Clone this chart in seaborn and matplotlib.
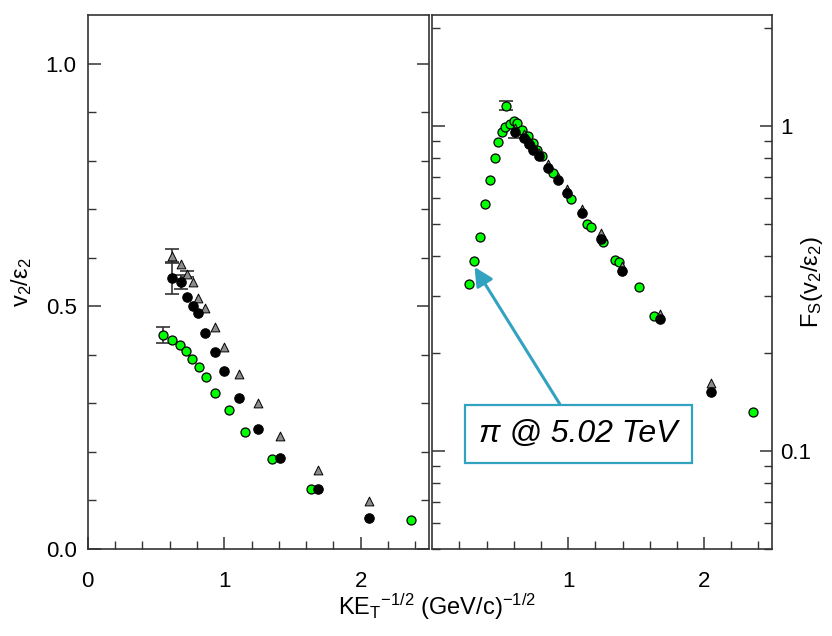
import numpy as np
import pandas as pd
import seaborn as sns
import matplotlib
matplotlib.use("Agg")
import matplotlib.pyplot as plt
from matplotlib.ticker import FixedLocator, FixedFormatter, NullFormatter

# ---------------- data ----------------
left_x = [0.62, 0.68, 0.73, 0.77, 0.81, 0.86, 0.93, 1.00, 1.11, 1.25, 1.41, 1.69, 2.06]
left_gray_y = [0.603, 0.587, 0.566, 0.550, 0.518, 0.496, 0.457, 0.416, 0.361, 0.300, 0.233, 0.163, 0.098]
left_gray_err = [0.014, 0, 0.006, 0, 0, 0, 0, 0, 0, 0, 0, 0, 0]
left_black_y = [0.559, 0.550, 0.520, 0.501, 0.486, 0.445, 0.406, 0.366, 0.312, 0.248, 0.188, 0.123, 0.063]
left_black_err = [0.033, 0.014, 0, 0, 0, 0, 0, 0, 0, 0, 0, 0, 0]
left_green_x = [0.554, 0.618, 0.674, 0.720, 0.762, 0.813, 0.864, 0.935, 1.036, 1.152, 1.348, 1.634, 2.369]
left_green_y = [0.441, 0.431, 0.421, 0.407, 0.392, 0.375, 0.355, 0.322, 0.286, 0.240, 0.186, 0.124, 0.059]
left_green_err = [0.016, 0, 0, 0, 0, 0, 0, 0, 0, 0, 0, 0, 0]

right_x = [0.61, 0.675, 0.712, 0.741, 0.785, 0.853, 0.927, 0.993, 1.098, 1.238, 1.396, 1.678, 2.052]
right_black_y = [0.958, 0.921, 0.879, 0.848, 0.809, 0.745, 0.683, 0.625, 0.542, 0.449, 0.359, 0.255, 0.152]
right_black_err = [0.04, 0, 0, 0, 0, 0, 0, 0, 0, 0, 0, 0, 0]
right_gray_y = [0.985, 0.945, 0.900, 0.870, 0.830, 0.765, 0.700, 0.640, 0.555, 0.469, 0.372, 0.264, 0.1625]
right_green_x = [0.267, 0.308, 0.350, 0.389, 0.423, 0.460, 0.487, 0.511, 0.536, 0.543, 0.570,
                 0.602, 0.626, 0.663, 0.704, 0.741, 0.773, 0.809, 0.888, 1.022, 1.140, 1.171,
                 1.257, 1.343, 1.377, 1.519, 1.629, 2.362]
right_green_y = [0.327, 0.385, 0.456, 0.575, 0.681, 0.796, 0.893, 0.958, 0.996, 1.157, 1.017,
                 1.036, 1.024, 0.977, 0.932, 0.889, 0.848, 0.809, 0.719, 0.599, 0.499, 0.490,
                 0.439, 0.388, 0.381, 0.321, 0.261, 0.132]
right_green_err = [0] * 9 + [0.035] + [0] * 18

annot_text = "π @ 5.02 TeV"
annot_xy = (0.30, 0.375)
annot_text_xy = (1.075, 0.113)

# ---------------- style ----------------
sns.set_style("ticks")
plt.rcParams['font.family'] = ['Liberation Sans', 'DejaVu Sans']
plt.rcParams['mathtext.default'] = 'regular'
plt.rcParams['mathtext.fontset'] = 'custom'
plt.rcParams['mathtext.rm'] = 'Liberation Sans'
plt.rcParams['mathtext.it'] = 'Liberation Sans:italic'
plt.rcParams['text.color'] = 'black'
plt.rcParams['axes.labelcolor'] = 'black'

GREEN = '#00FF00'
GRAY = '#8C8C8C'
SPINE = '#333333'
TEAL = '#31A2C0'

fig = plt.figure(figsize=(8.32, 6.36), dpi=100)
ax1 = fig.add_axes([0.1054, 0.1368, 0.4102, 0.8396])
ax2 = fig.add_axes([0.5196, 0.1368, 0.4083, 0.8396])


def draw(ax, gx, gy, gerr, x, grayy, grayerr, blacky, blackerr):
    # error bars
    for xs, ys, es in [(gx, gy, gerr), (x, grayy, grayerr), (x, blacky, blackerr)]:
        xe = [a for a, e in zip(xs, es) if e > 0]
        ye = [b for b, e in zip(ys, es) if e > 0]
        ee = [e for e in es if e > 0]
        if xe:
            ax.errorbar(xe, ye, yerr=ee, fmt='none', ecolor='#333333',
                        elinewidth=1.2, capsize=5, capthick=1.2, zorder=2)
    sns.scatterplot(x=gx, y=gy, ax=ax, marker='o', s=42, color=GREEN,
                    edgecolor='black', linewidth=0.9, zorder=3)
    sns.scatterplot(x=x, y=grayy, ax=ax, marker='^', s=40, color=GRAY,
                    edgecolor='black', linewidth=0.7, zorder=4)
    sns.scatterplot(x=x, y=blacky, ax=ax, marker='o', s=46, color='black',
                    edgecolor='black', linewidth=0.8, zorder=5)


draw(ax1, left_green_x, left_green_y, left_green_err, left_x,
     left_gray_y, left_gray_err, left_black_y, left_black_err)
draw(ax2, right_green_x, right_green_y, right_green_err, right_x,
     right_gray_y, [0] * len(right_x), right_black_y, right_black_err)

# ---------------- left axes ----------------
ax1.set_xlim(0, 2.5)
ax1.set_ylim(0, 1.1)
ax1.xaxis.set_major_locator(FixedLocator([0, 1, 2]))
ax1.xaxis.set_minor_locator(FixedLocator(np.arange(0, 2.5, 0.2)))
ax1.yaxis.set_major_locator(FixedLocator([0.0, 0.5, 1.0]))
ax1.yaxis.set_major_formatter(FixedFormatter(['0.0', '0.5', '1.0']))
ax1.yaxis.set_minor_locator(FixedLocator(np.arange(0, 1.1, 0.1)))
ax1.tick_params(axis='both', which='both', direction='in', labelsize=16,
                colors=SPINE, labelcolor='black')
ax1.tick_params(axis='y', which='both', left=True, right=True)
ax1.tick_params(axis='x', which='both', bottom=True, top=False)
ax1.tick_params(which='major', length=9, width=1.1)
ax1.tick_params(which='minor', length=6, width=1.0)
ax1.tick_params(axis='y', which='major', pad=8)
ax1.tick_params(axis='x', which='major', pad=16)
ax1.set_ylabel('v$_2$/ε$_2$', fontsize=17, labelpad=8, color='black')
ax1.set_xlabel('')

# ---------------- right axes ----------------
ax2.set_yscale('log')
ax2.set_xlim(0, 2.5)
ax2.set_ylim(0.05, 2.2)
ax2.xaxis.set_major_locator(FixedLocator([1, 2]))
ax2.xaxis.set_minor_locator(FixedLocator(np.arange(0.2, 2.5, 0.2)))
ax2.yaxis.set_major_locator(FixedLocator([0.1, 1.0]))
ax2.yaxis.set_major_formatter(FixedFormatter(['0.1', '1']))
minors = [m * d for d in (0.01, 0.1, 1.0) for m in range(2, 10)]
ax2.yaxis.set_minor_locator(FixedLocator(minors))
ax2.yaxis.set_minor_formatter(NullFormatter())
ax2.tick_params(axis='both', which='both', direction='in', labelsize=16,
                colors=SPINE, labelcolor='black')
ax2.tick_params(axis='y', which='both', left=True, right=True,
                labelleft=False, labelright=True)
ax2.tick_params(axis='x', which='both', bottom=True, top=False)
ax2.tick_params(which='major', length=9, width=1.1)
ax2.tick_params(which='minor', length=6, width=1.0)
ax2.tick_params(axis='y', which='major', pad=6)
ax2.tick_params(axis='x', which='major', pad=16)
ax2.yaxis.set_label_position('right')
ax2.set_ylabel('F$_S$(v$_2$/ε$_2$)', fontsize=17, va='center', ha='center',
               rotation=90, color='black')
ax2.yaxis.set_label_coords(1.118, 0.5)
ax2.set_xlabel('')

for ax in (ax1, ax2):
    for sp in ax.spines.values():
        sp.set_visible(True)
        sp.set_color(SPINE)
        sp.set_linewidth(1.2)

fig.text(0.525, 0.045, 'KE$_T$$^{-1/2}$ (GeV/c)$^{-1/2}$', ha='center',
         va='center', fontsize=17, color='black')

ax2.annotate(annot_text, xy=annot_xy, xytext=annot_text_xy,
             textcoords='data', ha='center', va='center',
             fontsize=23, fontstyle='italic', color='black',
             bbox=dict(boxstyle='square,pad=0.45', fc='white', ec=TEAL, lw=1.6),
             arrowprops=dict(arrowstyle='-|>', color=TEAL, lw=2.2,
                             mutation_scale=28, shrinkA=0, shrinkB=2),
             zorder=6)

fig.savefig('out.png', dpi=100)
